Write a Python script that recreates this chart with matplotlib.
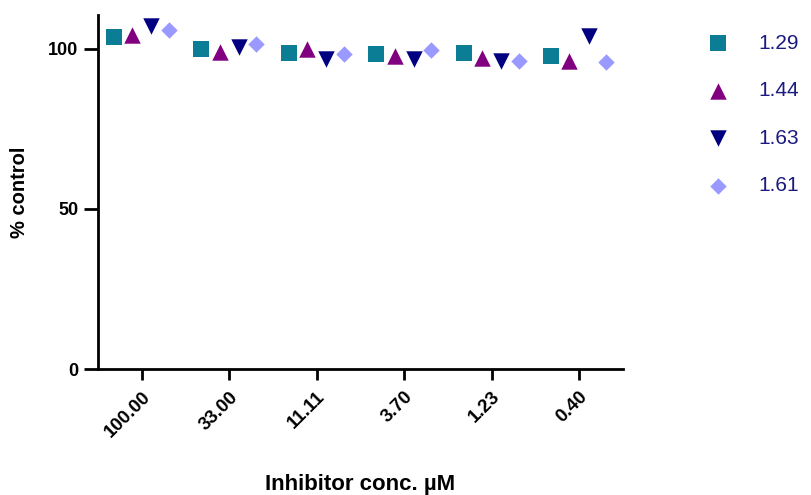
import matplotlib
matplotlib.use("Agg")
import matplotlib.pyplot as plt
import numpy as np

plt.rcParams['font.family'] = ['Liberation Sans', 'DejaVu Sans']

categories = ["100.00", "33.00", "11.11", "3.70", "1.23", "0.40"]
series_names = ["1.29", "1.44", "1.63", "1.61"]
s129 = [103.7, 100.0, 98.6, 98.4, 98.6, 97.8]
s144 = [104.4, 98.8, 99.8, 97.8, 97.0, 96.1]
s163 = [107.0, 100.5, 96.9, 96.9, 96.1, 103.8]
s161 = [105.9, 101.3, 98.2, 99.6, 96.1, 95.8]

series = [s129, s144, s163, s161]
markers = ['s', '^', 'v', 'D']
colors = ['#0B7E96', '#800080', '#000080', '#9999FF']
sizes = [120, 140, 140, 70]
offsets = [-0.32, -0.11, 0.11, 0.31]

fig = plt.figure(figsize=(8.12, 4.95), dpi=100)
ax = fig.add_axes([0.1207, 0.2545, 0.767 - 0.1207, 0.9697 - 0.2545])

x = np.arange(len(categories))
handles = []
for vals, m, c, sz, off, name in zip(series, markers, colors, sizes, offsets, series_names):
    h = ax.scatter(x + off, vals, marker=m, s=sz, color=c, linewidths=0, label=name, zorder=3)
    handles.append(h)

ax.set_xlim(-0.5, 5.5)
ax.set_ylim(0, 110.5)
ax.set_yticks([0, 50, 100])
ax.set_xticks(x)
ax.set_xticklabels(categories, rotation=45, ha='right', rotation_mode='anchor',
                   fontsize=13.5, fontweight='bold')
for lbl in ax.get_yticklabels():
    lbl.set_fontsize(13)
    lbl.set_fontweight('bold')

for side in ['top', 'right']:
    ax.spines[side].set_visible(False)
for side in ['left', 'bottom']:
    ax.spines[side].set_linewidth(2)
ax.tick_params(axis='y', length=10, width=2, pad=4)
ax.tick_params(axis='x', length=8, width=2, pad=6)

ax.set_ylabel("% control", fontsize=14.5, fontweight='bold', labelpad=14)
ax.set_xlabel("Inhibitor conc. µM", fontsize=16, fontweight='bold', labelpad=24)

leg = fig.legend(handles=handles, labels=series_names, loc='upper left',
                 bbox_to_anchor=(0.836, 0.97), frameon=False, fontsize=15,
                 labelspacing=1.37, handletextpad=0.9, scatterpoints=1,
                 markerscale=1.0)
for t in leg.get_texts():
    t.set_color('#1a1a80')

fig.savefig("out.png", dpi=100)
